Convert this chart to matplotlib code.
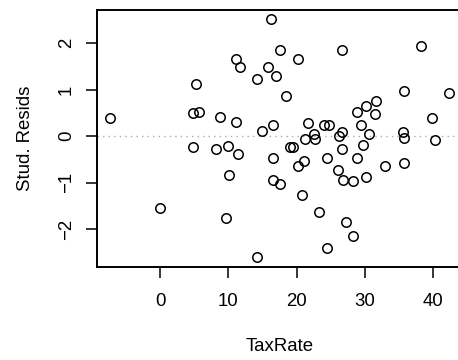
import numpy as np
import matplotlib.pyplot as plt

plt.rcParams['font.family'] = ['Liberation Sans', 'DejaVu Sans']

# tax rate vs studentized residuals
tax_rate = [-7.30, 0.03, 4.76, 5.64, 4.86, 5.30, 8.21, 8.72, 10.02, 10.15,
            9.64, 11.11, 11.11, 11.46, 11.75, 14.18, 14.24, 14.97, 15.75, 16.29,
            16.56, 16.92, 16.56, 16.56, 17.51, 17.55, 18.43, 19.02, 19.49, 20.19,
            20.19, 20.84, 21.03, 21.17, 21.71, 22.49, 22.67, 23.22, 24.03, 24.69,
            24.40, 24.47, 26.23, 26.71, 26.59, 26.59, 26.11, 26.84, 27.18, 28.25,
            28.21, 28.79, 28.79, 29.38, 29.71, 30.11, 30.15, 30.59, 31.47, 31.68,
            32.94, 35.53, 35.78, 35.75, 35.71, 38.20, 39.85, 40.22, 42.31]
stud_resid = [0.39, -1.55, 0.50, 0.52, -0.23, 1.13, -0.28, 0.41, -0.22, -0.84,
              -1.76, 0.30, 1.66, -0.38, 1.50, 1.23, -2.61, 0.11, 1.48, 2.52,
              0.23, 1.30, -0.47, -0.94, 1.85, -1.03, 0.86, -0.23, -0.23, 1.67,
              -0.65, -1.27, -0.53, -0.07, 0.28, 0.04, -0.07, -1.63, 0.25, 0.25,
              -2.42, -0.47, 0.00, 0.09, 1.86, -0.28, -0.73, -0.94, -1.85, -0.96,
              -2.15, 0.51, -0.47, 0.25, -0.19, 0.64, -0.88, 0.04, 0.47, 0.75,
              -0.64, 0.08, -0.03, 0.97, -0.58, 1.95, 0.40, -0.09, 0.93]
x_ticks = [0, 10, 20, 30, 40]
y_ticks = [-2, -1, 0, 1, 2]

x = np.array(tax_rate)
y = np.array(stud_resid)

fig = plt.figure(figsize=(4.58, 3.6), dpi=100)
ax = fig.add_axes([0.211, 0.259, 0.799, 0.714])

ax.plot(x, y, 'o', mfc='none', mec='black', ms=6.8, mew=1.1, clip_on=False)
ax.axhline(0, color='#aaaaaa', ls=(0, (1, 3)), lw=1.0, zorder=0)

# R style 4% padding
def pad(v):
    r = v.max() - v.min()
    return v.min() - 0.04 * r, v.max() + 0.04 * r

ax.set_xlim(*pad(x))
ax.set_ylim(*pad(y))
ax.set_xticks(x_ticks)
ax.set_yticks(y_ticks)
ax.set_yticklabels([str(t).replace('-', '\u2212') for t in y_ticks], rotation=90, va='center')
ax.set_xticklabels([str(t) for t in x_ticks])

fs = 13.4
for s in ax.spines.values():
    s.set_linewidth(1.4)
ax.tick_params(direction='out', length=7.7, width=1.1, labelsize=fs)
ax.tick_params(axis='x', pad=11.5)
ax.tick_params(axis='y', pad=8)

ax.set_xlabel('TaxRate', fontsize=fs, labelpad=20)
ax.set_ylabel('Stud. Resids', fontsize=fs, labelpad=17)

fig.savefig('out.png', dpi=100)
